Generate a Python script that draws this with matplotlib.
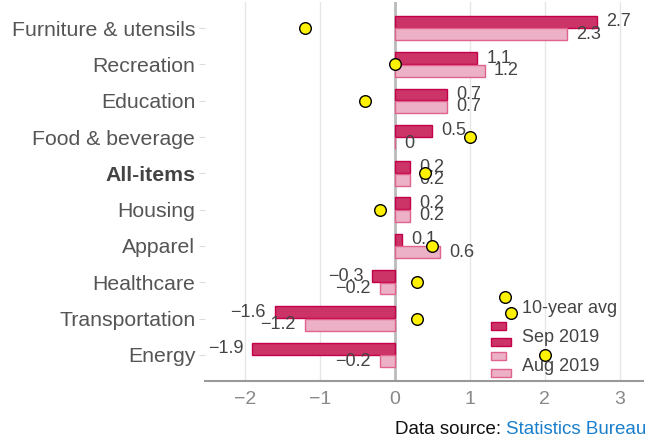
import numpy as np
import matplotlib
matplotlib.use("Agg")
import matplotlib.pyplot as plt
from matplotlib.patches import Rectangle
from matplotlib.lines import Line2D
from matplotlib.legend_handler import HandlerBase

plt.rcParams['font.family'] = ['Liberation Sans', 'DejaVu Sans']
plt.rcParams['axes.unicode_minus'] = True

categories = ["Furniture & utensils", "Recreation", "Education", "Food & beverage",
              "All-items", "Housing", "Apparel", "Healthcare", "Transportation", "Energy"]
sep_2019 = [2.7, 1.1, 0.7, 0.5, 0.2, 0.2, 0.1, -0.3, -1.6, -1.9]
aug_2019 = [2.3, 1.2, 0.7, 0.0, 0.2, 0.2, 0.6, -0.2, -1.2, -0.2]
ten_year_avg = [-1.2, 0.0, -0.4, 1.0, 0.4, -0.2, 0.5, 0.3, 0.3, 2.0]
xticks = [-2, -1, 0, 1, 2, 3]

SEP_FILL, SEP_EDGE = '#cc3366', '#c4004a'
AUG_FILL, AUG_EDGE = '#ecb1c6', '#e0638d'
DOT_FILL = '#fff200'

fig = plt.figure(figsize=(6.57, 4.40), dpi=100)
ax = fig.add_axes([205/657, 1 - 381/440, (643-205)/657, (381-2)/440])

y = np.arange(len(categories))
bh = 0.33
off = 0.172

ax.barh(y - off, sep_2019, height=bh, color=SEP_FILL, edgecolor=SEP_EDGE, linewidth=1, zorder=3)
ax.barh(y + off, aug_2019, height=bh, color=AUG_FILL, edgecolor=AUG_EDGE, linewidth=1, zorder=3)
ax.scatter(ten_year_avg, y, s=70, color=DOT_FILL, edgecolor='black', linewidth=1, zorder=5)

def fmt(v):
    s = f"{abs(v):g}"
    return ("\u2212" + s) if v < 0 else s

for yi, v in zip(y, sep_2019):
    ax.annotate(fmt(v), (v, yi - off), xytext=(6.5 if v >= 0 else -6.5, 0),
                textcoords='offset points', va='center', ha='left' if v >= 0 else 'right',
                fontsize=13, color='#444444', zorder=4)
for yi, v in zip(y, aug_2019):
    ax.annotate(fmt(v), (v, yi + off), xytext=(6.5 if v >= 0 else -6.5, 0),
                textcoords='offset points', va='center', ha='left' if v >= 0 else 'right',
                fontsize=13, color='#444444', zorder=4)

ax.set_xlim(-2.53, 3.31)
ax.set_ylim(9.72, -0.72)
ax.set_xticks(xticks)
ax.set_xticklabels([fmt(t) for t in xticks])
ax.set_yticks(y)
ax.set_yticklabels(categories)
for lbl in ax.get_yticklabels():
    lbl.set_color('#555555')
    if lbl.get_text() == 'All-items':
        lbl.set_fontweight('bold')
        lbl.set_color('#444444')
ax.tick_params(axis='y', length=4, color='#dddddd', labelsize=15.3, pad=3)
ax.tick_params(axis='x', length=0, labelsize=14, labelcolor='#888888', pad=7)

ax.grid(axis='x', color='#e6e6e6', linewidth=1, zorder=0)
ax.axvline(0, color='#bbbbbb', linewidth=2, zorder=2)
for s in ['top', 'right', 'left']:
    ax.spines[s].set_visible(False)
ax.spines['bottom'].set_color('#999999')
ax.spines['bottom'].set_linewidth(1.5)


class TwoRects(HandlerBase):
    def __init__(self, fill, edge, up, down):
        super().__init__()
        self.fill, self.edge, self.up, self.down = fill, edge, up, down

    def create_artists(self, legend, orig_handle, xdescent, ydescent, width, height, fontsize, trans):
        cy = -ydescent + height / 2
        h = 5.8
        r1 = Rectangle((-xdescent, cy + self.up - h/2), width * 0.75, h,
                       facecolor=self.fill, edgecolor=self.edge, lw=1, transform=trans)
        r2 = Rectangle((-xdescent, cy - self.down - h/2), width, h,
                       facecolor=self.fill, edgecolor=self.edge, lw=1, transform=trans)
        return [r1, r2]


class TwoDots(HandlerBase):
    def create_artists(self, legend, orig_handle, xdescent, ydescent, width, height, fontsize, trans):
        cy = -ydescent + height / 2
        arts = []
        for fx, dy in [(0.7, 7.0), (1.0, -4.5)]:
            ln = Line2D([-xdescent + fx * width], [cy + dy], marker='o', markersize=8.4,
                        markerfacecolor=DOT_FILL, markeredgecolor='black', markeredgewidth=1,
                        linestyle='none', transform=trans)
            arts.append(ln)
        return arts


h_dot = Line2D([], [])
h_sep = Rectangle((0, 0), 1, 1)
h_aug = Rectangle((0, 0), 1, 1, label='b')
leg = ax.legend([h_dot, h_sep, h_aug], ['10-year avg', 'Sep 2019', 'Aug 2019'],
                handler_map={h_dot: TwoDots(),
                             h_sep: TwoRects(SEP_FILL, SEP_EDGE, 7.0, 4.5),
                             h_aug: TwoRects(AUG_FILL, AUG_EDGE, 6.0, 6.0)},
                loc='center left', bbox_to_anchor=((491-205)/(643-205), (381-337.5)/379),
                frameon=False, fontsize=13, handlelength=1.1, handletextpad=0.6,
                labelspacing=0.66, borderpad=0, borderaxespad=0)
for t in leg.get_texts():
    t.set_color('#444444')

t1 = fig.text(395/657, 1 - 429/440, "Data source: ", fontsize=13.5, color='#111111',
              ha='left', va='center')
ax.annotate("Statistics Bureau", xy=(1, 0), xycoords=t1, va='bottom', ha='left',
            fontsize=13.5, color='#1a7fcc')

fig.savefig("out.png", dpi=100)
